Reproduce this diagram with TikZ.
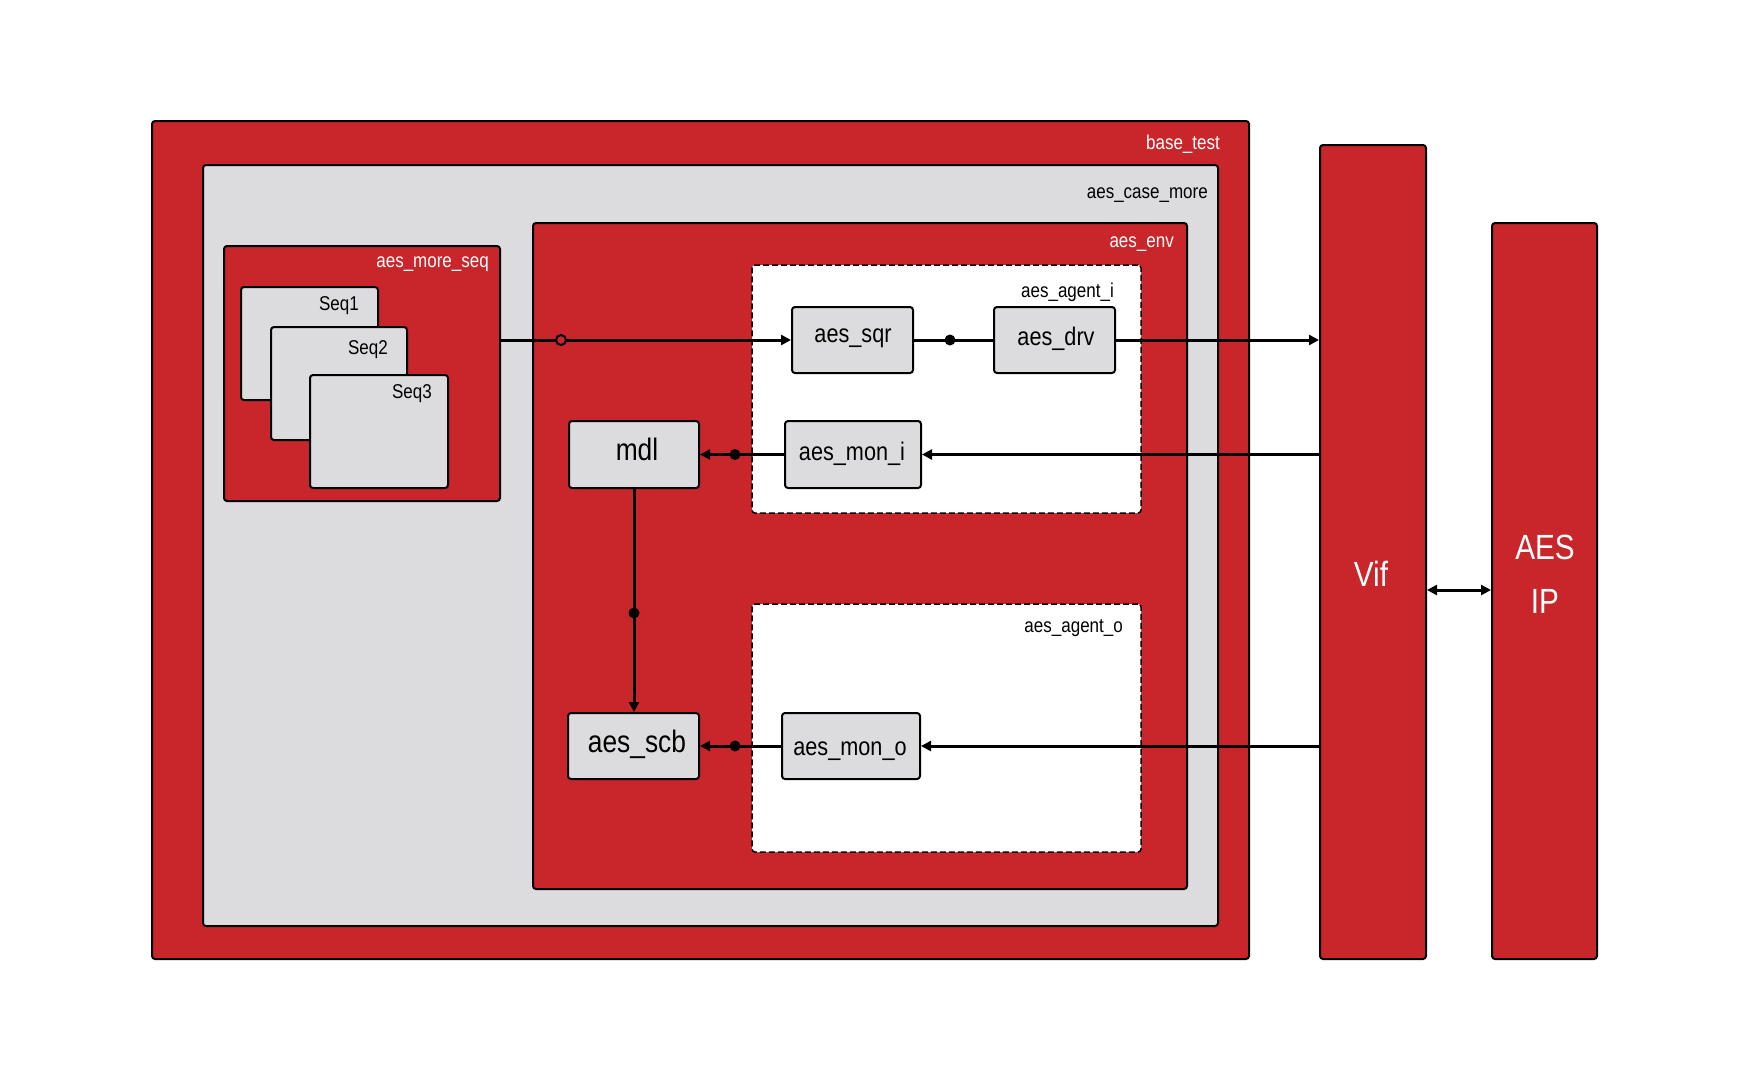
\documentclass[tikz,border=0pt]{standalone}
\usepackage{fontspec}
\setmainfont{Liberation Sans}[FakeStretch=0.85]
\usetikzlibrary{arrows.meta}
\definecolor{tred}{HTML}{C8262A}
\definecolor{tgray}{HTML}{DCDCDE}
\tikzset{
  redbox/.style={draw=black, line width=2pt, fill=tred, rounded corners=3pt, inner sep=0pt},
  graybox/.style={draw=black, line width=2pt, fill=tgray, rounded corners=3pt, inner sep=0pt},
  agentbox/.style={draw=black, line width=1.5pt, dash pattern=on 6pt off 3pt, fill=white, rounded corners=3pt, inner sep=0pt},
  comp/.style={draw=black, line width=2pt, fill=tgray, rounded corners=3pt, inner sep=0pt},
  wlabel/.style={text=white, font=\fontsize{20}{22}\selectfont, inner sep=0pt, anchor=east},
  blabel/.style={text=black, font=\fontsize{20}{22}\selectfont, inner sep=0pt, anchor=east},
  ctext/.style={text=black, font=\fontsize{25.5}{28}\selectfont, inner sep=0pt},
  conn/.style={draw=black, line width=3pt},
  tip/.style={-{Triangle[length=10pt,width=10pt]}},
  dot/.style={circle, fill=black, inner sep=0pt, minimum size=11pt},
  odot/.style={circle, draw=black, line width=2pt, fill=tred, inner sep=0pt, minimum size=10pt},
}
\begin{document}
\begin{tikzpicture}[x=1pt, y=-1pt]
\useasboundingbox (0,0) rectangle (1750,1080);
% containers
\node[redbox, minimum width=1097pt, minimum height=838pt] (base) at (700.5,540) {};
\node[wlabel] (baselbl) at (1220,144) {base\_test};
\node[graybox, minimum width=1015pt, minimum height=761pt] (case) at (710.5,545.5) {};
\node[blabel] (caselbl) at (1208,195) {aes\_case\_more};
\node[redbox, minimum width=276pt, minimum height=255pt] (mseq) at (362,373.5) {};
\node[wlabel] (mseqlbl) at (489,264) {aes\_more\_seq};
\node[graybox, minimum width=137pt, minimum height=113pt] (seq1) at (309.5,343.5) {};
\node[blabel] (seq1lbl) at (359,306) {Seq1};
\node[graybox, minimum width=136pt, minimum height=113pt] (seq2) at (339,383.5) {};
\node[blabel] (seq2lbl) at (388,350) {Seq2};
\node[graybox, minimum width=138pt, minimum height=113pt] (seq3) at (379,431.5) {};
\node[blabel] (seq3lbl) at (432,394) {Seq3};
\node[redbox, minimum width=654pt, minimum height=666pt] (env) at (860,556) {};
\node[wlabel] (envlbl) at (1174,244) {aes\_env};
\node[agentbox, minimum width=389pt, minimum height=248pt] (agi) at (946.5,389) {};
\node[blabel] (agilbl) at (1114,292) {aes\_agent\_i};
\node[agentbox, minimum width=389pt, minimum height=248pt] (ago) at (946.5,728) {};
\node[blabel] (agolbl) at (1123,628) {aes\_agent\_o};
% components
\node[comp, minimum width=121pt, minimum height=66pt] (sqr) at (852.5,340) {};
\node[ctext] at (853,338.5) {aes\_sqr};
\node[comp, minimum width=121pt, minimum height=66pt] (drv) at (1054.5,340) {};
\node[ctext] at (1056,338.5) {aes\_drv};
\node[comp, minimum width=136pt, minimum height=67pt] (moni) at (853,454.5) {};
\node[ctext] at (852,453.5) {aes\_mon\_i};
\node[comp, minimum width=130pt, minimum height=67pt] (mdl) at (634,454.5) {};
\node[ctext, font=\fontsize{31}{34}\selectfont] at (637,449) {mdl};
\node[comp, minimum width=131pt, minimum height=66pt] (scb) at (633.5,746) {};
\node[ctext, font=\fontsize{31}{34}\selectfont] at (637,744) {aes\_scb};
\node[comp, minimum width=138pt, minimum height=66pt] (mono) at (851,746) {};
\node[ctext] at (850,751) {aes\_mon\_o};
% Vif and AES IP
\node[redbox, minimum width=106pt, minimum height=814pt] (vif) at (1373,552) {};
\node[text=white, font=\fontsize{35}{40}\selectfont, inner sep=0pt] (viflbl) at (1371,574) {Vif};
\node[redbox, minimum width=105pt, minimum height=736pt] (ip) at (1544.5,591) {};
\node[text=white, font=\fontsize{35}{40}\selectfont, inner sep=0pt] (iplbl1) at (1545,547) {AES};
\node[text=white, font=\fontsize{35}{40}\selectfont, inner sep=0pt] (iplbl2) at (1545,601) {IP};
% connectors
\draw[conn, tip] (mseq.east |- sqr.west) -- (sqr.west);
\node[odot] (ocirc) at (561,340) {};
\draw[conn] (sqr.east) -- (drv.west);
\node[dot] (dot1) at (950,340) {};
\draw[conn, tip] (drv.east) -- (vif.west |- drv.east);
\draw[conn, tip] (vif.west |- moni.east) -- (moni.east);
\draw[conn, tip] (moni.west) -- (mdl.east);
\node[dot] (dot2) at (735,454.5) {};
\draw[conn, tip] (mdl.south) -- (mdl.south |- scb.north);
\node[dot] (dot3) at (634,613) {};
\draw[conn, tip] (vif.west |- mono.east) -- (mono.east);
\draw[conn, tip] (mono.west) -- (scb.east);
\node[dot] (dot4) at (735,746) {};
\draw[conn, {Triangle[length=10pt,width=10pt]}-{Triangle[length=10pt,width=10pt]}] (vif.east |- 0,590) -- (ip.west |- 0,590);
\end{tikzpicture}
\end{document}
